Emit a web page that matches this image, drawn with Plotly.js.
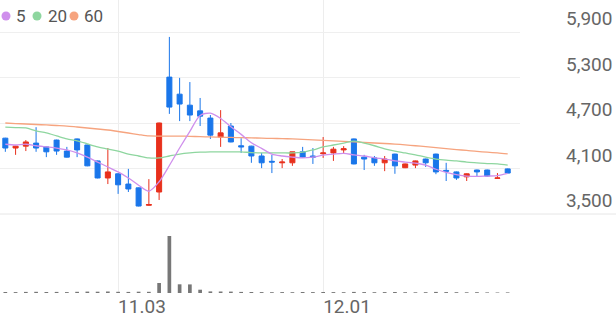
<!DOCTYPE html>
<html><head><meta charset="utf-8">
<script src="https://cdn.plot.ly/plotly-3.0.1.min.js"></script>
<style>html,body{margin:0;padding:0;background:#fff}#chart{width:616px;height:321px}</style>
</head><body><div id="chart"></div>
<script>
// ---- data ----
const dates = ["10.19","10.20","10.23","10.24","10.25","10.26","10.27","10.30","10.31","11.01","11.02",
  "11.03","11.06","11.07","11.08","11.09","11.10","11.13","11.14","11.15","11.16","11.17","11.20","11.21","11.22","11.23","11.24","11.27","11.28","11.29","11.30",
  "12.01","12.04","12.05","12.06","12.07","12.08","12.11","12.12","12.13","12.14","12.15","12.18","12.19","12.20","12.21","12.22","12.26","12.27","12.28"];
const openP  = [4500,4370,4395,4435,4385,4475,4330,4490,4410,4200,3975,4030,3895,3845,3615,3790,5305,5080,4935,4860,4765,4515,4660,4400,4395,4265,4195,4175,4175,4320,4265,4295,4305,4345,4490,4250,4240,4175,4290,4110,4145,4225,4290,4075,4055,3990,4080,4080,3970,4095];
const highP  = [4505,4400,4475,4645,4390,4480,4385,4495,4415,4205,4370,4035,4095,3850,3960,4705,5835,5295,5240,5030,4805,4870,4700,4500,4400,4305,4280,4225,4320,4385,4370,4515,4385,4395,4495,4280,4265,4265,4295,4165,4205,4230,4295,4175,4060,4035,4085,4085,4040,4100];
const lowP   = [4320,4280,4330,4320,4250,4280,4245,4250,4130,3970,3895,3765,3790,3600,3610,3685,4820,4725,4725,4660,4490,4385,4445,4305,4175,4105,4040,4105,4135,4245,4160,4240,4200,4305,4155,4080,4135,4065,4030,4105,4105,4120,4025,3935,3950,3935,4000,3990,3965,4035];
const closeP = [4370,4395,4450,4370,4320,4330,4250,4345,4135,3975,4055,3885,3830,3605,3625,4700,4910,4950,4805,4790,4540,4570,4450,4385,4265,4175,4185,4185,4320,4250,4250,4305,4355,4360,4160,4225,4175,4225,4135,4160,4200,4175,4055,4065,3975,4030,4055,4000,3975,4040];
const ma5  = [4420,4410,4420,4400,4385,4370,4345,4305,4250,4185,4120,4055,3975,3880,3800,3925,4140,4370,4590,4800,4830,4760,4650,4550,4440,4365,4290,4265,4250,4240,4250,4275,4290,4300,4280,4265,4240,4225,4200,4185,4170,4145,4090,4050,4020,4000,3995,4000,4005,4035];
const ma20 = [4645,4640,4635,4595,4570,4530,4490,4465,4425,4385,4355,4330,4290,4265,4240,4240,4265,4290,4305,4315,4320,4320,4320,4320,4310,4305,4305,4305,4305,4315,4345,4385,4410,4435,4460,4435,4400,4360,4330,4305,4280,4250,4225,4210,4200,4185,4175,4165,4160,4145];
const ma60 = [4700,4693,4687,4680,4674,4667,4660,4647,4634,4621,4608,4588,4568,4548,4530,4528,4528,4527,4524,4520,4516,4513,4510,4507,4504,4500,4497,4494,4490,4485,4478,4470,4463,4457,4450,4443,4436,4430,4422,4412,4400,4388,4375,4362,4350,4338,4325,4315,4305,4292];
const volume = [50000,45000,55000,60000,50000,55000,45000,60000,70000,65000,75000,60000,55000,65000,60000,500000,2850000,435000,430000,165000,80000,75000,70000,55000,50000,45000,40000,45000,40000,50000,45000,50000,45000,40000,55000,45000,40000,45000,50000,40000,35000,40000,55000,45000,40000,35000,40000,30000,25000,30000];
const priceTicks = [3500,4100,4700,5300,5900];
const dateTicks = ["11.03","12.01"];
const maNames = ["5","20","60"];

// ---- styling / layout ----
const W=616,H=321,mL=0,mR=96,mT=0,mB=28;
const plotW=W-mL-mR, plotH=H-mT-mB;
const sepPx=214;
const priceDom=[(plotH-sepPx)/plotH,1];
const UP='#e8301c', DOWN='#1a76ea', C5='#cf8fec', C20='#8ed69f', C60='#f6a47f';
const xr=[-0.52,50.2];

const traces=[
 {type:'candlestick',x:dates,open:openP,high:highP,low:lowP,close:closeP,xaxis:'x',yaxis:'y',
  increasing:{line:{color:UP,width:1},fillcolor:UP},decreasing:{line:{color:DOWN,width:1},fillcolor:DOWN},
  whiskerwidth:0,hoverinfo:'skip',showlegend:false},
 {type:'scatter',mode:'lines',x:dates,y:ma60,line:{color:C60,width:1.3,shape:'spline',smoothing:0.8},xaxis:'x',yaxis:'y',hoverinfo:'skip',showlegend:false},
 {type:'scatter',mode:'lines',x:dates,y:ma20,line:{color:C20,width:1.3,shape:'spline',smoothing:0.8},xaxis:'x',yaxis:'y',hoverinfo:'skip',showlegend:false},
 {type:'scatter',mode:'lines',x:dates,y:ma5,line:{color:C5,width:1.3,shape:'spline',smoothing:0.8},xaxis:'x',yaxis:'y',hoverinfo:'skip',showlegend:false},
 {type:'bar',x:dates,y:volume,xaxis:'x2',yaxis:'y2',marker:{color:'#777777'},width:0.36,hoverinfo:'skip',showlegend:false}
];

const px2x=p=>p/plotW, px2y=p=>1-p/plotH;
const shapes=[
 {type:'line',xref:'paper',yref:'paper',x0:0,x1:W/plotW,y0:priceDom[0],y1:priceDom[0],line:{color:'#e6e6e6',width:1}}
];
const dotCols=[C5,C20,C60], dotX=[6,37,74], txtX=[14,46,82];
const annotations=[];
for(let i=0;i<3;i++){
  shapes.push({type:'circle',xref:'paper',yref:'paper',x0:px2x(dotX[i]-4.5),x1:px2x(dotX[i]+4.5),y0:px2y(20.5),y1:px2y(11.5),fillcolor:dotCols[i],line:{width:0}});
  annotations.push({xref:'paper',yref:'paper',x:px2x(txtX[i]),y:px2y(16),xanchor:'left',yanchor:'middle',showarrow:false,text:maNames[i],font:{family:'Roboto',size:17,color:'#555'}});
}

const layout={
 width:W,height:H,margin:{l:mL,r:mR,t:mT,b:mB},paper_bgcolor:'#fff',plot_bgcolor:'#fff',
 font:{family:'Roboto'},showlegend:false,hovermode:false,
 xaxis:{type:'category',domain:[0,1],anchor:'y',range:xr,tickvals:dateTicks,showticklabels:false,showgrid:true,gridcolor:'#ededed',gridwidth:1,zeroline:false,showline:false,ticks:'',rangeslider:{visible:false},fixedrange:true},
 xaxis2:{type:'category',domain:[0,1],anchor:'y2',matches:'x',range:xr,tickvals:dateTicks,showgrid:true,gridcolor:'#ededed',zeroline:false,showline:false,ticks:'',ticklabelposition:'outside right',tickfont:{family:'Roboto',size:19,color:'#666'},fixedrange:true},
 yaxis:{domain:priceDom,range:[3500,6322],side:'right',tickvals:priceTicks,tickformat:',d',showgrid:true,gridcolor:'#efefef',zeroline:false,showline:false,ticks:'',ticklabelposition:'outside top',ticklabelstandoff:45,tickfont:{family:'Roboto',size:19,color:'#666'},fixedrange:true},
 yaxis2:{domain:[0,priceDom[0]],range:[0,3950000],showticklabels:false,showgrid:false,zeroline:false,showline:false,fixedrange:true},
 shapes:shapes,annotations:annotations
};
Plotly.newPlot('chart',traces,layout,{staticPlot:true,displayModeBar:false});
</script></body></html>
